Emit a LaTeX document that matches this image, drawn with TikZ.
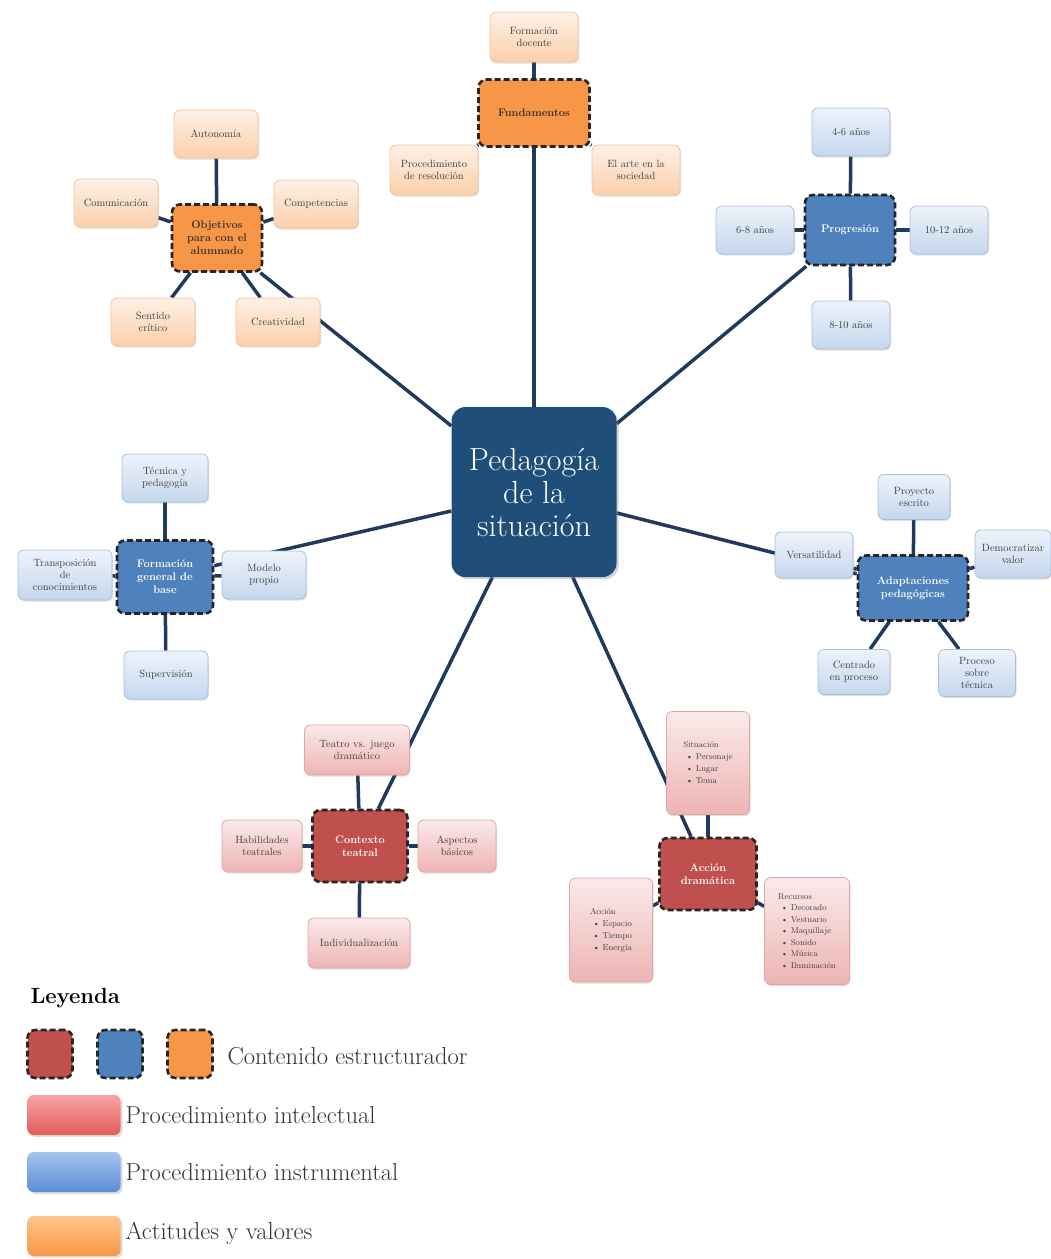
\documentclass[tikz,border=0pt]{standalone}
\usepackage{tikz}
\usetikzlibrary{shapes,positioning,shadows,backgrounds}

\definecolor{centreblue}{HTML}{1F4E79}
\definecolor{linkblue}{HTML}{1F3A5C}
\definecolor{keyred}{HTML}{C0504D}
\definecolor{keyblue}{HTML}{4F81BD}
\definecolor{keyorange}{HTML}{F79646}
\definecolor{leaforangetop}{HTML}{FEF0E6}
\definecolor{leaforangebot}{HTML}{FBD0AA}
\definecolor{leaforangeline}{HTML}{F6C49A}
\definecolor{leafbluetop}{HTML}{EEF3FA}
\definecolor{leafbluebot}{HTML}{C5D7EE}
\definecolor{leafblueline}{HTML}{A7BFDE}
\definecolor{leafredtop}{HTML}{FBEAEA}
\definecolor{leafredbot}{HTML}{EDB4B3}
\definecolor{leafredline}{HTML}{E2A5A4}
\definecolor{barbluetop}{HTML}{A4C4EE}
\definecolor{barbluebot}{HTML}{5A8DD6}
\definecolor{barredtop}{HTML}{F7A4A4}
\definecolor{barredbot}{HTML}{E25C5C}

\begin{document}
\begin{tikzpicture}[x=1pt,y=-1pt,
  centrenode/.style={rectangle, rounded corners=14pt, fill=centreblue, text=white, align=center,
    minimum width=165pt, minimum height=170pt, font=\fontsize{32}{33}\selectfont, drop shadow={opacity=0.35}},
  keynode/.style={rectangle, rounded corners=8pt, draw=black!85, line width=2.6pt, dash pattern=on 6pt off 3pt,
    align=center, inner sep=1pt, font=\bfseries\fontsize{11}{13}\selectfont},
  redkey/.style={keynode, fill=keyred, text=white},
  bluekey/.style={keynode, fill=keyblue, text=white},
  orangekey/.style={keynode, fill=keyorange, text=black!80},
  leafnode/.style={rectangle, rounded corners=6pt, align=center, inner sep=1pt, line width=0.8pt,
    minimum width=84pt, minimum height=48pt, text=black!75, font=\fontsize{10.5}{12}\selectfont,
    drop shadow={opacity=0.25, shadow xshift=1pt, shadow yshift=-1.5pt}},
  redleaf/.style={leafnode, draw=leafredline, top color=leafredtop, bottom color=leafredbot},
  blueleaf/.style={leafnode, draw=leafblueline, top color=leafbluetop, bottom color=leafbluebot},
  orangeleaf/.style={leafnode, draw=leaforangeline, top color=leaforangetop, bottom color=leaforangebot},
  listleaf/.style={redleaf, align=left, font=\fontsize{8.5}{12}\selectfont},
  link/.style={draw=linkblue, line width=3.5pt},
  legendbar/.style={rectangle, rounded corners=6pt, minimum width=93pt, minimum height=40pt, drop shadow={opacity=0.25}},
  legendtext/.style={anchor=west, text=black!80, font=\fontsize{24.5}{28}\selectfont}]
\useasboundingbox (0,0) rectangle (1051,1259);

%Centre
\node[centrenode] (centre) at (534,492) {Pedagog\'ia\\de la\\situaci\'on};

%Fundamentos
\node[orangekey, minimum width=111pt, minimum height=67pt] (fund) at (534,113) {Fundamentos};
\node[orangeleaf, minimum width=88pt, minimum height=50pt] (docente) at (534,37) {Formaci\'on\\docente};
\node[orangeleaf, minimum width=88pt, minimum height=50pt] (resol) at (434,170) {Procedimiento\\de resoluci\'on};
\node[orangeleaf, minimum width=88pt, minimum height=50pt] (arte) at (636,170) {El arte en la\\sociedad};

%Objetivos
\node[orangekey, minimum width=90pt, minimum height=67pt] (obj) at (217,238) {Objetivos\\para con el\\alumnado};
\node[orangeleaf] (auton) at (216,134) {Autonom\'ia};
\node[orangeleaf] (comun) at (116,203) {Comunicaci\'on};
\node[orangeleaf] (compet) at (316,204) {Competencias};
\node[orangeleaf] (critico) at (153,322) {Sentido\\cr\'itico};
\node[orangeleaf] (creat) at (278,322) {Creatividad};

%Progresion
\node[bluekey, minimum width=90pt, minimum height=70pt] (prog) at (850,230) {Progresi\'on};
\node[blueleaf, minimum width=78pt] (edad1) at (851,132) {4-6 a\~nos};
\node[blueleaf, minimum width=78pt] (edad2) at (755,230) {6-8 a\~nos};
\node[blueleaf, minimum width=78pt] (edad3) at (851,325) {8-10 a\~nos};
\node[blueleaf, minimum width=78pt] (edad4) at (949,230) {10-12 a\~nos};

%Formacion general
\node[bluekey, minimum width=96pt, minimum height=73pt] (formac) at (165,577) {Formaci\'on\\general de\\base};
\node[blueleaf, minimum width=86pt] (tecnica) at (165,478) {T\'ecnica y\\pedagog\'ia};
\node[blueleaf, minimum width=94pt, minimum height=50pt] (transp) at (65,575) {Transposici\'on\\de\\conocimientos};
\node[blueleaf] (modelo) at (264,575) {Modelo\\propio};
\node[blueleaf] (superv) at (166,675) {Supervisi\'on};

%Adaptaciones
\node[bluekey, minimum width=110pt, minimum height=65pt] (adapt) at (913,588) {Adaptaciones\\pedag\'ogicas};
\node[blueleaf, minimum width=72pt, minimum height=45pt] (proyecto) at (914,497) {Proyecto\\escrito};
\node[blueleaf, minimum width=78pt, minimum height=46pt] (version) at (814,555) {Versatilidad};
\node[blueleaf, minimum width=76pt, minimum height=48pt] (democ) at (1013,554) {Democratizar\\valor};
\node[blueleaf, minimum width=72pt, minimum height=45pt] (centrado) at (854,672) {Centrado\\en proceso};
\node[blueleaf, minimum width=77pt, minimum height=47pt] (proceso) at (977,673) {Proceso\\sobre\\t\'ecnica};

%Contexto teatral
\node[redkey, minimum width=95pt, minimum height=72pt] (contexto) at (360,846) {Contexto\\teatral};
\node[redleaf, minimum width=105pt, minimum height=50pt] (teatro) at (357,750) {Teatro vs. juego\\dram\'atico};
\node[redleaf, minimum width=80pt, minimum height=52pt] (habil) at (262,846) {Habilidades\\teatrales};
\node[redleaf, minimum width=78pt, minimum height=52pt] (aspect) at (457,846) {Aspectos\\b\'asicos};
\node[redleaf, minimum width=102pt, minimum height=50pt] (indiv) at (359,943) {Individualizaci\'on};

%Accion dramatica
\node[redkey, minimum width=97pt, minimum height=72pt] (accdram) at (708,874) {Acci\'on\\dram\'atica};
\node[listleaf, minimum width=83pt, minimum height=103pt] (situac) at (708,763)
  {Situaci\'on\\ \ \textbullet\ Personaje\\ \ \textbullet\ Lugar\\ \ \textbullet\ Tema};
\node[listleaf, minimum width=83pt, minimum height=104pt] (accion) at (611,930)
  {Acci\'on\\ \ \textbullet\ Espacio\\ \ \textbullet\ Tiempo\\ \ \textbullet\ Energ\'ia};
\node[listleaf, minimum width=85pt, minimum height=107pt, font=\fontsize{8.5}{11.5}\selectfont] (recurs) at (807,931)
  {Recursos\\ \ \textbullet\ Decorado\\ \ \textbullet\ Vestuario\\ \ \textbullet\ Maquillaje\\
   \ \textbullet\ Sonido\\ \ \textbullet\ M\'usica\\ \ \textbullet\ Iluminaci\'on};

%Links
\begin{scope}[on background layer]
\draw[link] (centre) -- (fund);
\draw[link] (centre) -- (obj);
\draw[link] (centre) -- (prog);
\draw[link] (centre) -- (formac);
\draw[link] (centre) -- (adapt);
\draw[link] (centre) -- (contexto);
\draw[link] (centre) -- (accdram);

\draw[link] (fund) -- (docente);
\draw[link] (fund) -- (resol);
\draw[link] (fund) -- (arte);

\draw[link] (obj) -- (auton);
\draw[link] (obj) -- (comun);
\draw[link] (obj) -- (compet);
\draw[link] (obj) -- (critico);
\draw[link] (obj) -- (creat);

\draw[link] (prog) -- (edad1);
\draw[link] (prog) -- (edad2);
\draw[link] (prog) -- (edad3);
\draw[link] (prog) -- (edad4);

\draw[link] (formac) -- (tecnica);
\draw[link] (formac) -- (transp);
\draw[link] (formac) -- (modelo);
\draw[link] (formac) -- (superv);

\draw[link] (adapt) -- (proyecto);
\draw[link] (adapt) -- (version);
\draw[link] (adapt) -- (democ);
\draw[link] (adapt) -- (centrado);
\draw[link] (adapt) -- (proceso);

\draw[link] (contexto) -- (teatro);
\draw[link] (contexto) -- (habil);
\draw[link] (contexto) -- (aspect);
\draw[link] (contexto) -- (indiv);

\draw[link] (accdram) -- (situac);
\draw[link] (accdram) -- (accion);
\draw[link] (accdram) -- (recurs);
\end{scope}

%Legend
\node[anchor=west, font=\bfseries\fontsize{22}{26}\selectfont] (leyenda) at (27,998) {Leyenda};
\node[redkey, minimum width=45pt, minimum height=48pt] (leyred) at (50,1054) {};
\node[bluekey, minimum width=45pt, minimum height=48pt] (leyblue) at (120,1054) {};
\node[orangekey, minimum width=45pt, minimum height=48pt] (leyorange) at (190,1054) {};
\node[legendtext] (estruct) at (224,1056) {Contenido estructurador};
\node[legendbar, top color=barredtop, bottom color=barredbot] (leyint) at (74,1115) {};
\node[legendtext] (intel) at (122,1115) {Procedimiento intelectual};
\node[legendbar, top color=barbluetop, bottom color=barbluebot] (leyins) at (74,1172) {};
\node[legendtext] (instr) at (122,1172) {Procedimiento instrumental};
\node[legendbar, top color=orange!45, bottom color=keyorange] (leyact) at (74,1236) {};
\node[legendtext] (actit) at (122,1233) {Actitudes y valores};
\end{tikzpicture}
\end{document}
